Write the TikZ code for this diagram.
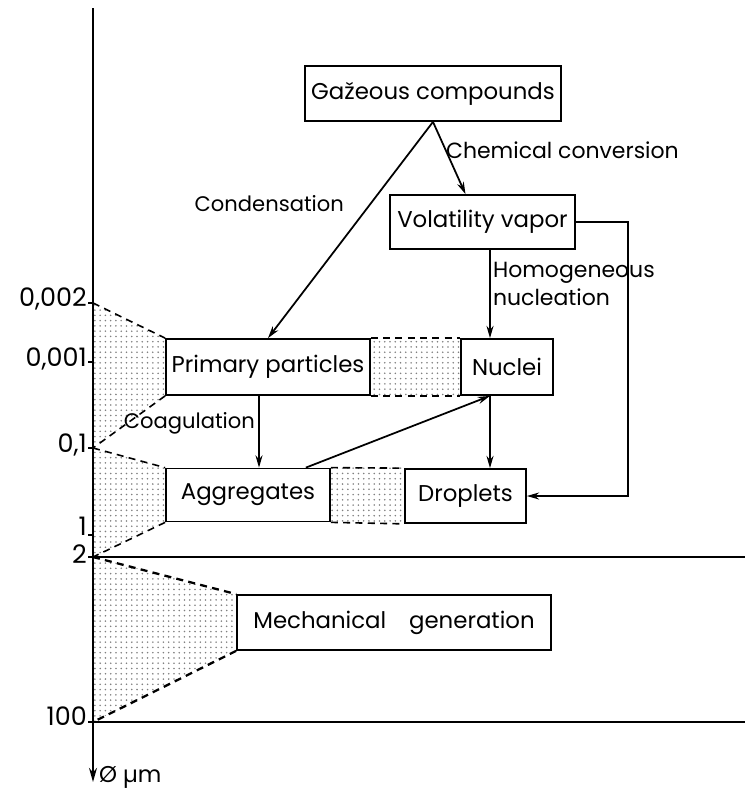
\documentclass[tikz,border=0pt]{standalone}
\usepackage{fontspec}
\setmainfont{Poppins}
\usetikzlibrary{arrows.meta,patterns,calc}
\tikzset{
  box/.style={draw,line width=1pt,inner sep=2pt,font=\fontsize{13}{15}\selectfont},
  lbl/.style={inner sep=1pt,font=\fontsize{12}{14}\selectfont},
  tick/.style={inner sep=0.5pt,font=\fontsize{14.5}{16}\selectfont},
  dashline/.style={line width=0.9pt,dash pattern=on 4pt off 3pt},
  dotfill/.style={pattern=dots,pattern color=black!50},
  link/.style={line width=1pt,-{Stealth[length=7pt,width=4pt]}}
}
\begin{document}
\begin{tikzpicture}[x=0.02cm,y=-0.02cm]
\useasboundingbox (0,0) rectangle (745,795);
\coordinate (top) at (93,8);
\coordinate (bot) at (93,782);
\coordinate (t2) at (93,303);
\coordinate (t1) at (93,362);
\coordinate (t01) at (93,448);
\coordinate (tone) at (93,535);
\coordinate (ttwo) at (93,557);
\coordinate (thund) at (93,722);
\coordinate (rtwo) at (745,557);
\coordinate (rhund) at (745,722);
\coordinate (colA) at (259,0);
\coordinate (colB) at (490,0);
\node[box,minimum width=5.12cm,minimum height=1.1cm] (gas) at (433,93.5) {Ga\v{z}eous compounds};
\node[box,minimum width=3.7cm,minimum height=1.08cm] (vapor) at (482.5,222) {Volatility vapor};
\node[box,minimum width=4.08cm,minimum height=1.12cm] (primary) at (268,367) {Primary particles};
\node[box,minimum width=1.84cm,minimum height=1.12cm] (nuclei) at (507,367) {Nuclei};
\node[box,minimum width=3.28cm,minimum height=1.06cm] (aggr) at (248,495) {Aggregates};
\node[box,minimum width=2.42cm,minimum height=1.08cm] (drop) at (465.5,496) {Droplets};
\node[box,minimum width=6.28cm,minimum height=1.1cm] (mech) at (394,622.5) {Mechanical\quad generation};
\fill[dotfill] (t2) -- (primary.north west) -- (primary.south west) -- (t01) -- cycle;
\fill[dotfill] (t01) -- (aggr.north west) -- (aggr.south west) -- (ttwo) -- cycle;
\fill[dotfill] (ttwo) -- (mech.north west) -- (mech.south west) -- (thund) -- cycle;
\fill[dotfill] (primary.north east) rectangle (nuclei.south west);
\fill[dotfill] (aggr.north east) rectangle (drop.south west);
\draw[dashline] (t2) -- (primary.north west);
\draw[dashline] (primary.south west) -- (t01);
\draw[dashline] (t01) -- (aggr.north west);
\draw[dashline] (aggr.south west) -- (ttwo);
\draw[dashline,line width=1.3pt] (ttwo) -- (mech.north west);
\draw[dashline,line width=1.3pt] (mech.south west) -- (thund);
\draw[dashline] (primary.north east) -- (nuclei.north west);
\draw[dashline] (primary.south east) -- (nuclei.south west);
\draw[dashline] (aggr.north east) -- (drop.north west);
\draw[dashline] (aggr.south east) -- (drop.south west);
\draw[line width=1.3pt,-{Stealth[length=8pt,width=4.5pt]}] (top) -- (bot);
\draw[line width=1.5pt] (ttwo) -- (rtwo);
\draw[line width=1.5pt] (thund) -- (rhund);
\foreach \t in {t2,t1,t01,tone,ttwo,thund}
  \draw[line width=0.9pt] (\t) -- ++(-5,0);
\node[tick,anchor=east] (n2) at (88,299) {0,002};
\node[tick,anchor=east] (n1) at (88,359) {0,001};
\node[tick,anchor=east] (n01) at (88,445) {0,1};
\node[tick,anchor=east] (none) at (88,526) {1};
\node[tick,anchor=east] (ntwo) at (88,554) {2};
\node[tick,anchor=east] (nhund) at (88,716) {100};
\draw[link] (gas.south) -- (primary.north);
\draw[link] (gas.south) -- ($(vapor.north)+(-17,0)$);
\draw[link] (vapor.south -| colB) -- (nuclei.north -| colB);
\draw[link] (vapor.east) -- ++(52,0) |- (drop.east);
\draw[link] (primary.south -| colA) -- (aggr.north -| colA);
\draw[link] (nuclei.south -| colB) -- (drop.north -| colB);
\draw[link] ($(aggr.north east)+(-25,0)$) -- (nuclei.south -| colB);
\node[lbl,anchor=west,font=\fontsize{12.5}{14}\selectfont] (chem) at (444,150) {Chemical conversion};
\node[lbl,anchor=east] (cond) at (346,204) {Condensation};
\node[lbl,anchor=west,align=left,font=\fontsize{12.5}{16}\selectfont] (homog) at (491,284) {Homogeneous\\nucleation};
\node[lbl,anchor=east] (coag) at (257,423) {Coagulation};
\node[lbl,anchor=west,font=\fontsize{13}{15}\selectfont] (unit) at (97,777) {Ø µm};
\end{tikzpicture}
\end{document}
